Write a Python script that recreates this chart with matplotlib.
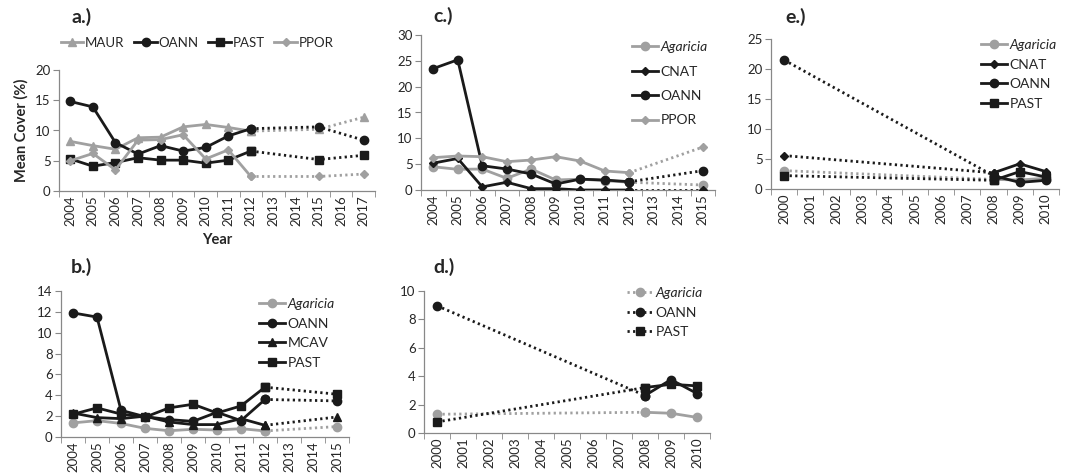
import numpy as np
import matplotlib
matplotlib.use('Agg')
import matplotlib.pyplot as plt
from matplotlib.lines import Line2D
from matplotlib.ticker import FixedLocator

plt.rcParams['font.family'] = ['Lato', 'DejaVu Sans']

##############################
# データ
##############################
nan = np.nan

# a.)
years_a = ['2004', '2005', '2006', '2007', '2008', '2009', '2010', '2011', '2012',
           '2013', '2014', '2015', '2016', '2017']
a_maur = [8.2, 7.5, 6.9, 8.8, 8.9, 10.6, 11.0, 10.5, 9.9, nan, nan, 10.2, nan, 12.2]
a_oann = [14.8, 13.9, 8.0, 6.1, 7.5, 6.6, 7.2, 9.1, 10.3, nan, nan, 10.6, nan, 8.4]
a_past = [5.3, 4.1, 4.7, 5.5, 5.1, 5.1, 4.6, 5.1, 6.6, nan, nan, 5.2, nan, 5.9]
a_ppor = [5.0, 6.2, 3.5, 8.4, 8.5, 9.3, 5.3, 6.8, 2.4, nan, nan, 2.4, nan, 2.8]

# b.)
years_b = ['2004', '2005', '2006', '2007', '2008', '2009', '2010', '2011', '2012',
           '2013', '2014', '2015']
b_agar = [1.35, 1.57, 1.3, 0.83, 0.6, 0.74, 0.67, 0.8, 0.58, nan, nan, 1.0]
b_oann = [11.9, 11.5, 2.56, 1.95, 1.67, 1.5, 2.37, 1.57, 3.6, nan, nan, 3.46]
b_mcav = [2.3, 1.86, 1.76, 2.0, 1.44, 1.19, 1.19, 1.76, 1.12, nan, nan, 1.92]
b_past = [2.18, 2.79, 2.2, 1.9, 2.79, 3.14, 2.3, 2.98, 4.78, nan, nan, 4.1]

# c.)
years_c = years_b
c_agar = [4.5, 4.0, 4.06, 2.26, 4.06, 1.94, 2.1, 1.8, 1.5, nan, nan, 0.97]
c_cnat = [5.2, 6.1, 0.6, 1.5, 0.26, 0.26, 0.0, 0.0, 0.0, nan, nan, 0.0]
c_oann = [23.5, 25.2, 4.7, 4.06, 3.1, 1.16, 2.1, 1.94, 1.6, nan, nan, 3.74]
c_ppor = [6.26, 6.58, 6.45, 5.48, 5.8, 6.45, 5.6, 3.68, 3.35, nan, nan, 8.3]

# d.)
years_d = ['2000', '2001', '2002', '2003', '2004', '2005', '2006', '2007', '2008',
           '2009', '2010']
d_agar = [1.32, nan, nan, nan, nan, nan, nan, nan, 1.46, 1.39, 1.1]
d_oann = [8.96, nan, nan, nan, nan, nan, nan, nan, 2.64, 3.76, 2.78]
d_past = [0.78, nan, nan, nan, nan, nan, nan, nan, 3.2, 3.43, 3.32]

# e.)
years_e = years_d
e_agar = [3.06, nan, nan, nan, nan, nan, nan, nan, 1.6, 1.5, 1.8]
e_cnat = [5.57, nan, nan, nan, nan, nan, nan, nan, 2.7, 4.2, 2.9]
e_oann = [21.5, nan, nan, nan, nan, nan, nan, nan, 2.2, 1.1, 1.45]
e_past = [2.23, nan, nan, nan, nan, nan, nan, nan, 1.45, 2.9, 2.0]

##############################
# スタイル
##############################
W, H = 1070, 473
BLACK = '#1a1a1a'
GRAY = '#a0a0a0'
TXT = '#262626'
DOT = (0, (0.8, 1.2))
STYLE = {
    'MAUR': (GRAY, '^', 6),
    'OANN': (BLACK, 'o', 6),
    'PAST': (BLACK, 's', 6),
    'PPOR': (GRAY, 'D', 4),
    'Agaricia': (GRAY, 'o', 6),
    'MCAV': (BLACK, '^', 6),
    'CNAT': (BLACK, 'D', 4.5),
}
TICK_FS = 9.5
LEG_FS = 10
TITLE_FS = 14


def px_box(l, r, t, b):
    return [l / W, 1 - b / H, (r - l) / W, (b - t) / H]


def plot_series(ax, vals, name, split, solid_first=True):
    color, marker, ms = STYLE[name]
    vals = np.array(vals, dtype=float)
    idx = np.arange(len(vals))
    ok = ~np.isnan(vals)
    first = ok & (idx <= split)
    second = ok & (idx >= split)
    ls1, ls2 = ('-', DOT) if solid_first else (DOT, '-')
    ax.plot(idx[first], vals[first], color=color, lw=2, ls=ls1,
            marker=marker, ms=ms, zorder=3)
    ax.plot(idx[second], vals[second], color=color, lw=2, ls=ls2,
            marker=marker, ms=ms, zorder=3)


def setup_axes(ax, years, ymax, ystep):
    n = len(years)
    ax.set_xlim(-0.5, n - 0.5)
    ax.set_ylim(0, ymax)
    ax.set_xticks(np.arange(n))
    ax.set_xticklabels(years, rotation=90, fontsize=TICK_FS, color=TXT)
    ax.xaxis.set_minor_locator(FixedLocator(np.arange(n + 1) - 0.5))
    ax.tick_params(axis='x', which='major', length=0, pad=3)
    ax.tick_params(axis='x', which='minor', length=4, color='#888888')
    ax.set_yticks(np.arange(0, ymax + 0.1, ystep))
    ax.tick_params(axis='y', length=4, color='#888888', labelsize=TICK_FS,
                   labelcolor=TXT, pad=2)
    for s in ['top', 'right']:
        ax.spines[s].set_visible(False)
    for s in ['left', 'bottom']:
        ax.spines[s].set_color('#888888')
        ax.spines[s].set_linewidth(0.9)


def add_legend(ax, names, x, y, spacing=0.6, dotted=False):
    handles = []
    for name in names:
        color, marker, ms = STYLE[name]
        handles.append(Line2D([], [], color=color, lw=2,
                              ls=DOT if dotted else '-', marker=marker, ms=ms))
    leg = ax.legend(handles, names, loc='upper left',
                    bbox_to_anchor=(x / W, 1 - y / H),
                    bbox_transform=ax.figure.transFigure,
                    frameon=False, fontsize=LEG_FS, handlelength=1.9,
                    handletextpad=0.15, labelspacing=spacing,
                    borderpad=0, borderaxespad=0)
    for t in leg.get_texts():
        t.set_color(TXT)
        if t.get_text() == 'Agaricia':
            t.set_fontstyle('italic')
    return leg


fig = plt.figure(figsize=(W / 100, H / 100), dpi=100)

# a.)
ax = fig.add_axes(px_box(59, 375, 70, 191))
setup_axes(ax, years_a, 20, 5)
plot_series(ax, a_maur, 'MAUR', 8)
plot_series(ax, a_oann, 'OANN', 8)
plot_series(ax, a_past, 'PAST', 8)
plot_series(ax, a_ppor, 'PPOR', 8)
handles = [Line2D([], [], color=STYLE[n][0], lw=2, marker=STYLE[n][1], ms=STYLE[n][2])
           for n in ['MAUR', 'OANN', 'PAST', 'PPOR']]
ax.legend(handles, ['MAUR', 'OANN', 'PAST', 'PPOR'], loc='upper left', ncol=4,
          bbox_to_anchor=(61 / W, 1 - 37 / H), bbox_transform=fig.transFigure,
          frameon=False, fontsize=9.5, handlelength=1.7, handletextpad=0.12,
          columnspacing=0.75, borderpad=0, borderaxespad=0,
          labelcolor=TXT)
ax.set_ylabel('Mean Cover (%)', fontsize=10.5, fontweight='bold', labelpad=5,
              color=TXT)
fig.text(217 / W, 1 - 240 / H, 'Year', fontsize=10.5, fontweight='bold',
         ha='center', va='center', color=TXT)
fig.text(71 / W, 1 - 17 / H, 'a.)', fontsize=TITLE_FS, fontweight='bold',
         va='center', color=TXT)

# b.)
ax = fig.add_axes(px_box(61, 349, 291, 437))
setup_axes(ax, years_b, 14, 2)
plot_series(ax, b_agar, 'Agaricia', 8)
plot_series(ax, b_oann, 'OANN', 8)
plot_series(ax, b_mcav, 'MCAV', 8)
plot_series(ax, b_past, 'PAST', 8)
add_legend(ax, ['Agaricia', 'OANN', 'MCAV', 'PAST'], 259, 298, spacing=0.55)
fig.text(71 / W, 1 - 267 / H, 'b.)', fontsize=TITLE_FS, fontweight='bold',
         va='center', color=TXT)

# c.)
ax = fig.add_axes(px_box(421, 715, 35, 190))
setup_axes(ax, years_c, 30, 5)
plot_series(ax, c_agar, 'Agaricia', 8)
plot_series(ax, c_cnat, 'CNAT', 8)
plot_series(ax, c_oann, 'OANN', 8)
plot_series(ax, c_ppor, 'PPOR', 8)
add_legend(ax, ['Agaricia', 'CNAT', 'OANN', 'PPOR'], 632, 41, spacing=0.9)
fig.text(433 / W, 1 - 16 / H, 'c.)', fontsize=TITLE_FS, fontweight='bold',
         va='center', color=TXT)

# d.)
ax = fig.add_axes(px_box(424, 710, 291, 433))
setup_axes(ax, years_d, 10, 2)
plot_series(ax, d_agar, 'Agaricia', 8, solid_first=False)
plot_series(ax, d_oann, 'OANN', 8, solid_first=False)
plot_series(ax, d_past, 'PAST', 8, solid_first=False)
add_legend(ax, ['Agaricia', 'OANN', 'PAST'], 627, 287, spacing=0.55, dotted=True)
fig.text(433 / W, 1 - 267 / H, 'd.)', fontsize=TITLE_FS, fontweight='bold',
         va='center', color=TXT)

# e.)
ax = fig.add_axes(px_box(771, 1059, 39, 189))
setup_axes(ax, years_e, 25, 5)
plot_series(ax, e_agar, 'Agaricia', 8, solid_first=False)
plot_series(ax, e_cnat, 'CNAT', 8, solid_first=False)
plot_series(ax, e_oann, 'OANN', 8, solid_first=False)
plot_series(ax, e_past, 'PAST', 8, solid_first=False)
add_legend(ax, ['Agaricia', 'CNAT', 'OANN', 'PAST'], 981, 39, spacing=0.55)
fig.text(785 / W, 1 - 17 / H, 'e.)', fontsize=TITLE_FS, fontweight='bold',
         va='center', color=TXT)

fig.savefig('out.png', dpi=100)
plt.close()
